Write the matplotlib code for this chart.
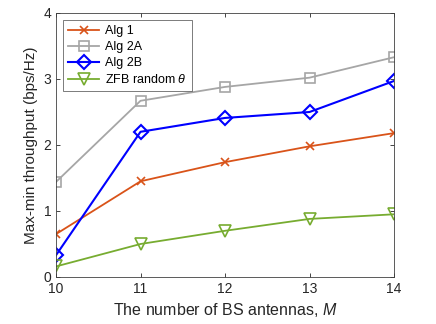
import matplotlib
matplotlib.use("Agg")
import matplotlib.pyplot as plt

plt.rcParams['font.family'] = ['Liberation Sans', 'DejaVu Sans']
plt.rcParams['mathtext.fontset'] = 'custom'
plt.rcParams['mathtext.it'] = 'Liberation Sans:italic'

M = [10, 11, 12, 13, 14]
alg1 = [0.65, 1.45, 1.74, 1.98, 2.18]
alg2a = [1.44, 2.67, 2.88, 3.02, 3.33]
alg2b = [0.33, 2.20, 2.41, 2.50, 2.97]
zfb = [0.16, 0.50, 0.70, 0.88, 0.95]
labels = ['Alg 1', 'Alg 2A', 'Alg 2B', r'ZFB random $\theta$']

fig = plt.figure(figsize=(4.36, 3.24), dpi=100)
ax = fig.add_axes([56/436, 1-277/324, (394-56)/436, (277-13)/324])

ax.plot(M, alg1, color='#D95319', marker='x', ms=6, mew=1.2, lw=1.3, label=labels[0])
ax.plot(M, alg2a, color='#A6A6A6', marker='s', ms=7, mfc='none', mew=1.2, lw=1.3, label=labels[1])
ax.plot(M, alg2b, color='#0000FF', marker='D', ms=7, mfc='none', mew=1.5, lw=1.5, label=labels[2])
ax.plot(M, zfb, color='#77AC30', marker='v', ms=8, mfc='none', mew=1.2, lw=1.3, label=labels[3])

ax.set_xlim(10, 14)
ax.set_ylim(0, 4)
ax.set_xticks([10, 11, 12, 13, 14])
ax.set_yticks([0, 1, 2, 3, 4])
ax.tick_params(direction='in', length=3, colors='#262626', labelsize=10, top=True, right=True, width=0.6)
for s in ax.spines.values():
    s.set_color('#404040')
    s.set_linewidth(0.6)
ax.set_xlabel(r'The number of BS antennas, $M$', fontsize=11.5, color='#262626')
ax.set_ylabel('Max-min throughput (bps/Hz)', fontsize=11, color='#262626')

leg = ax.legend(loc='upper left', fontsize=9, frameon=True, fancybox=False, edgecolor='#404040',
                handlelength=2.5, borderaxespad=0.55, labelspacing=0.33, borderpad=0.4,
                handletextpad=0.5)
leg.get_frame().set_linewidth(0.6)

fig.savefig('out.png', dpi=100)
